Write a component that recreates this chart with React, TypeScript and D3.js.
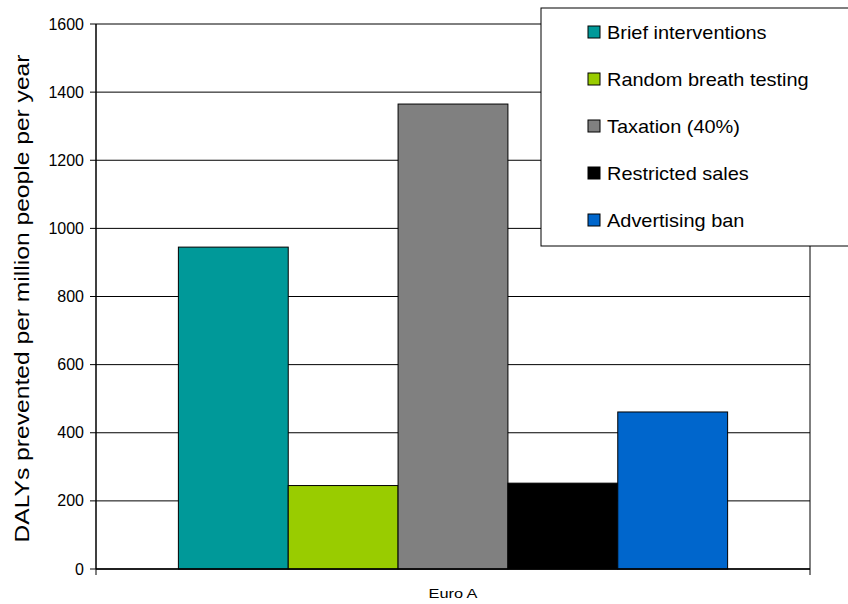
import React from "react";
import * as d3 from "d3";

const categories = ["Euro A"];
const seriesNames = [
  "Brief interventions",
  "Random breath testing",
  "Taxation (40%)",
  "Restricted sales",
  "Advertising ban",
];
const seriesValues = [945, 245, 1365, 252, 461];
const seriesColors = ["#009999", "#99CC00", "#808080", "#000000", "#0066CC"];
const yTicks = [0, 200, 400, 600, 800, 1000, 1200, 1400, 1600];
const yLabel = "DALYs prevented per million people per year";

const W = 848;
const H = 604;
const M = { left: 96, right: 810, top: 24, bottom: 569 };
const FONT = "Liberation Sans, Arial, sans-serif";

export default function App() {
  const y = d3.scaleLinear().domain([0, 1600]).range([M.bottom, M.top]);
  const x0 = d3.scaleBand().domain(categories).range([M.left, M.right]).paddingInner(0).paddingOuter(0);
  const groupW = x0.bandwidth();
  const barW = groupW / 6.5;
  const x1 = d3
    .scaleBand()
    .domain(seriesNames)
    .range([0.75 * barW, groupW - 0.75 * barW])
    .padding(0);

  return (
    <svg width={W} height={H} style={{ position: "absolute", left: 0, top: 0, background: "#fff" }}>
      <rect x={0} y={0} width={W} height={H} fill="#fff" />
      {yTicks.map((t) => (
        <g key={t}>
          <line x1={M.left} x2={M.right} y1={y(t)} y2={y(t)} stroke="#000" strokeWidth={1} />
          <line x1={M.left - 6} x2={M.left} y1={y(t)} y2={y(t)} stroke="#000" strokeWidth={1} />
          <text x={84} y={y(t)} dy="0.35em" textAnchor="end" fontFamily={FONT} fontSize={16} fill="#000">
            {t}
          </text>
        </g>
      ))}
      <line x1={M.right} x2={M.right} y1={M.top} y2={M.bottom} stroke="#000" strokeWidth={1} />
      {categories.map((c) => (
        <g key={c}>
          {seriesNames.map((s, i) => (
            <rect
              key={s}
              x={(x0(c) as number) + (x1(s) as number)}
              y={y(seriesValues[i])}
              width={x1.bandwidth()}
              height={y(0) - y(seriesValues[i])}
              fill={seriesColors[i]}
              stroke="#000"
              strokeWidth={1}
            />
          ))}
          <text
            x={(x0(c) as number) + groupW / 2}
            y={598}
            textAnchor="middle"
            fontFamily={FONT}
            fontSize={13}
            textLength={49}
            lengthAdjust="spacingAndGlyphs"
            fill="#000"
          >
            {c}
          </text>
        </g>
      ))}
      <line x1={M.left} x2={M.left} y1={M.top} y2={M.bottom} stroke="#000" strokeWidth={1.5} />
      <line x1={M.left} x2={M.right} y1={M.bottom} y2={M.bottom} stroke="#000" strokeWidth={1.5} />
      <line x1={M.left} x2={M.left} y1={M.bottom} y2={M.bottom + 6} stroke="#000" strokeWidth={1} />
      <line x1={M.right} x2={M.right} y1={M.bottom} y2={M.bottom + 6} stroke="#000" strokeWidth={1} />
      <text
        transform={`translate(29, ${(M.top + M.bottom) / 2 + 2}) rotate(-90)`}
        textAnchor="middle"
        fontFamily={FONT}
        fontSize={20}
        textLength={488}
        lengthAdjust="spacingAndGlyphs"
        fill="#000"
      >
        {yLabel}
      </text>
      <g>
        <rect x={541} y={8} width={320} height={238} fill="#fff" stroke="#000" strokeWidth={1} />
        {seriesNames.map((s, i) => {
          const cy = 32 + i * 47;
          return (
            <g key={s}>
              <rect x={588} y={cy - 6} width={12} height={12} fill={seriesColors[i]} stroke="#000" strokeWidth={1} />
              <text
                transform={`translate(607, ${cy}) scale(1.05, 1)`}
                dy="0.35em"
                fontFamily={FONT}
                fontSize={19}
                fill="#000"
              >
                {s}
              </text>
            </g>
          );
        })}
      </g>
    </svg>
  );
}
